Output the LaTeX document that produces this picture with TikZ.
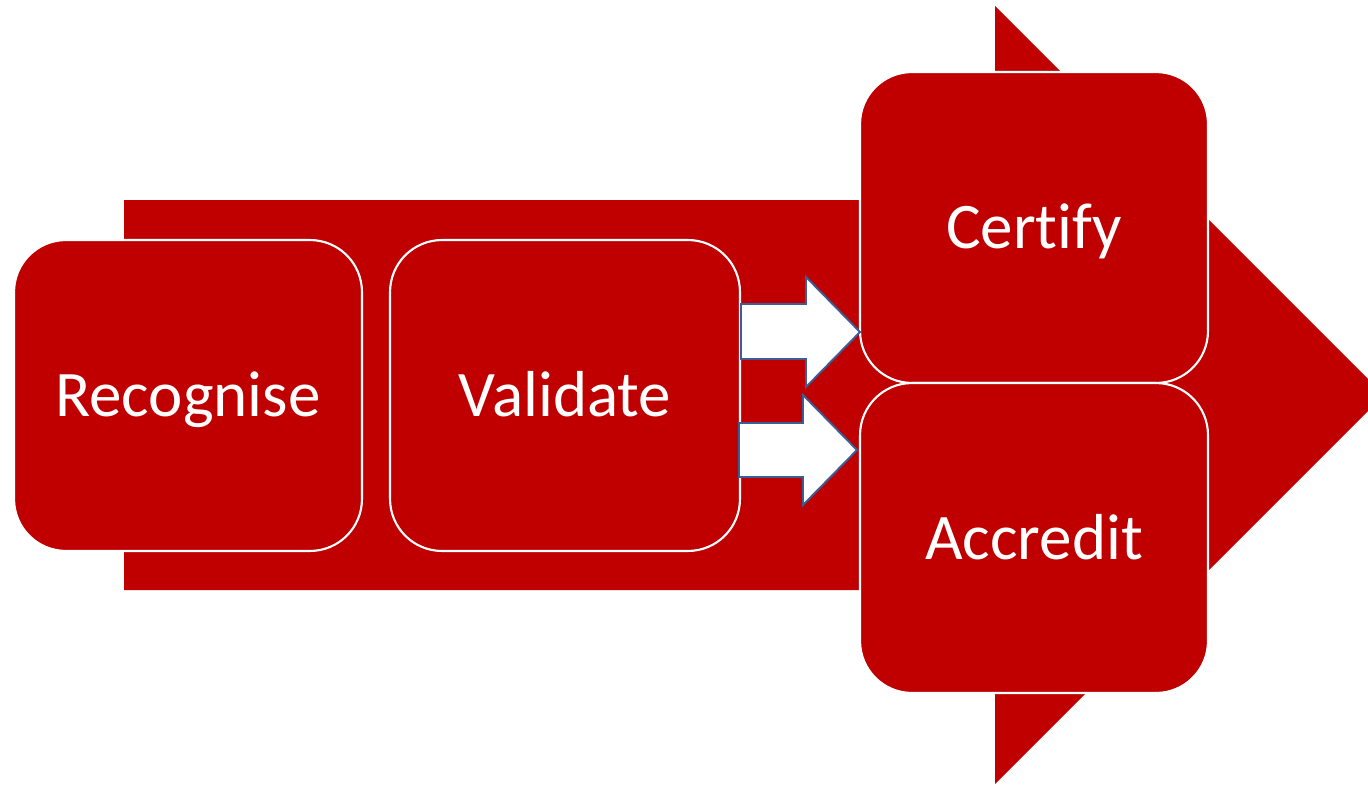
\documentclass[tikz,border=0pt]{standalone}
\usepackage{fontspec}
\setmainfont{Carlito}[Ligatures=NoCommon]
\definecolor{darkred}{HTML}{C00000}
\definecolor{edgeblue}{HTML}{3A5E95}
\begin{document}
\begin{tikzpicture}[x=0.02cm,y=-0.02cm,
    stage/.style={draw=white,line width=1.2pt,fill=darkred,rounded corners=1.04cm,
        text=white,font=\fontsize{37}{40}\selectfont,inner sep=0pt,
        text height=0.84cm,text depth=0pt}]
    \useasboundingbox (0,0) rectangle (1368,784);
    \clip (0,0) rectangle (1368,784);
    % big arrow behind
    \fill[darkred] (124,200) -- (995,200) -- (995,6) -- (1384,395) -- (995,784) -- (995,590) -- (124,590) -- cycle;
    \node[stage,minimum width=6.96cm,minimum height=6.22cm] (recognise) at (188,395.5) {Recognise};
    \node[stage,minimum width=7cm,minimum height=6.22cm] (validate) at (565,395.5) {Validate};
    \node[stage,minimum width=6.96cm,minimum height=6.22cm] (certify) at (1034,227.5) {Certify};
    \node[stage,minimum width=6.96cm,minimum height=6.2cm] (accredit) at (1034,538) {Accredit};
    % block arrows
    \draw[edgeblue,fill=white,line width=1.1pt] (741,304) -- (806,304) -- (806,277) -- (860,332) -- (806,387) -- (806,359) -- (741,359) -- cycle;
    \draw[edgeblue,fill=white,line width=1.1pt] (739,423) -- (803,423) -- (803,395) -- (857,450) -- (803,505) -- (803,477) -- (739,477) -- cycle;
\end{tikzpicture}
\end{document}
